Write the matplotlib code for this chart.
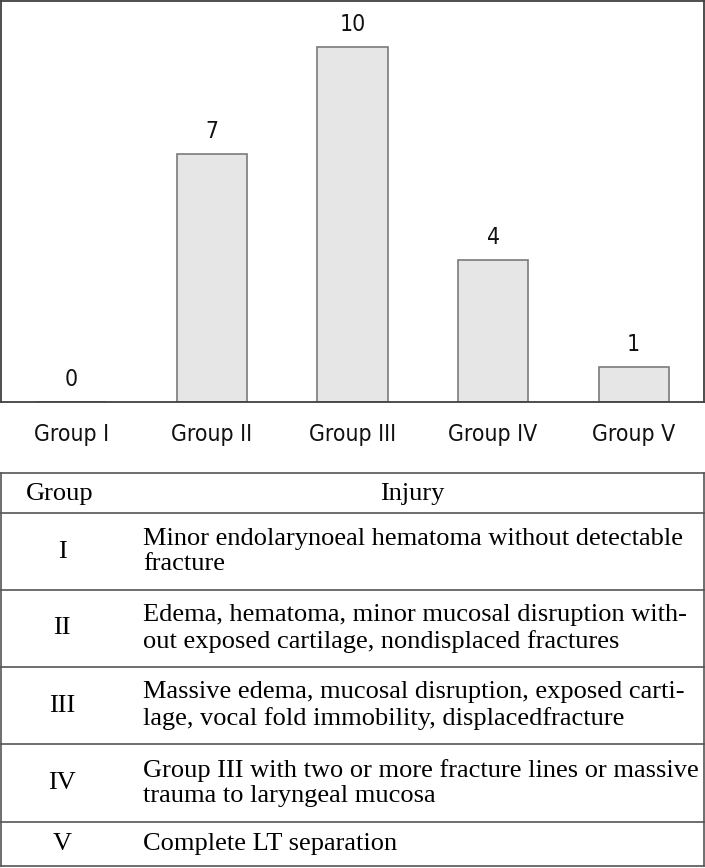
import matplotlib.pyplot as plt

# bar chart data
groups = ["Group I", "Group II", "Group III", "Group IV", "Group V"]
counts = [0, 7, 10, 4, 1]

# table data
table_header = ["Group", "Injury"]
table_groups = ["I", "II", "III", "IV", "V"]
table_injury = [
    "Minor endolarynoeal hematoma without detectable\nfracture",
    "Edema, hematoma, minor mucosal disruption with-\nout exposed cartilage, nondisplaced fractures",
    "Massive edema, mucosal disruption, exposed carti-\nlage, vocal fold immobility, displacedfracture",
    "Group III with two or more fracture lines or massive\ntrauma to laryngeal mucosa",
    "Complete LT separation",
]

W, H = 705, 868
fig = plt.figure(figsize=(W / 100, H / 100), dpi=100)

sans = ["DejaVu Sans"]
serif = ["Liberation Serif", "DejaVu Serif"]

###bar chart on top
ax = fig.add_axes([1 / W, 1 - 402 / H, 703 / W, 401 / H])
x = range(len(groups))
ax.bar(x, counts, width=0.5, color="#e6e6e6", edgecolor="#7a7a7a", linewidth=1.2)
for i, v in zip(x, counts):
    ax.text(i, v + 0.3, str(v), ha="center", va="bottom", fontsize=16.5,
            family=sans, fontstretch="condensed", color="#111111")
ax.set_xlim(-0.5, 4.5)
ax.set_ylim(0, 11.3)
ax.set_yticks([])
ax.set_xticks(list(x))
ax.set_xticklabels(groups, fontsize=16.5, family=sans, fontstretch="condensed",
                   color="#111111")
ax.tick_params(axis="x", length=0, pad=15)
for s in ax.spines.values():
    s.set_color("#404040")
    s.set_linewidth(1.3)

###table below, drawn in pixel coords
tax = fig.add_axes([0, 0, 1, 1])
tax.set_xlim(0, W)
tax.set_ylim(H, 0)
tax.axis("off")

row_lines = [473, 513, 590, 667, 744, 822, 866]
left, right = 1, 704
lc = "#555555"
for y in row_lines:
    tax.plot([left, right], [y, y], color=lc, lw=1.2)
tax.plot([left, left], [row_lines[0], row_lines[-1]], color=lc, lw=1.2)
tax.plot([right, right], [row_lines[0], row_lines[-1]], color=lc, lw=1.2)

fs = 19
hy = (row_lines[0] + row_lines[1]) / 2
tax.text(60, hy + 1, table_header[0], ha="center", va="center", fontsize=fs, family=serif)
tax.text(412, hy + 1, table_header[1], ha="center", va="center", fontsize=fs, family=serif)
for k in range(len(table_groups)):
    cy = (row_lines[k + 1] + row_lines[k + 2]) / 2
    tax.text(62, cy, table_groups[k], ha="center", va="center", fontsize=fs, family=serif)
    tax.text(143, cy, table_injury[k], ha="left", va="center", fontsize=fs,
             family=serif, linespacing=1.2)

fig.savefig("out.png", dpi=100)
